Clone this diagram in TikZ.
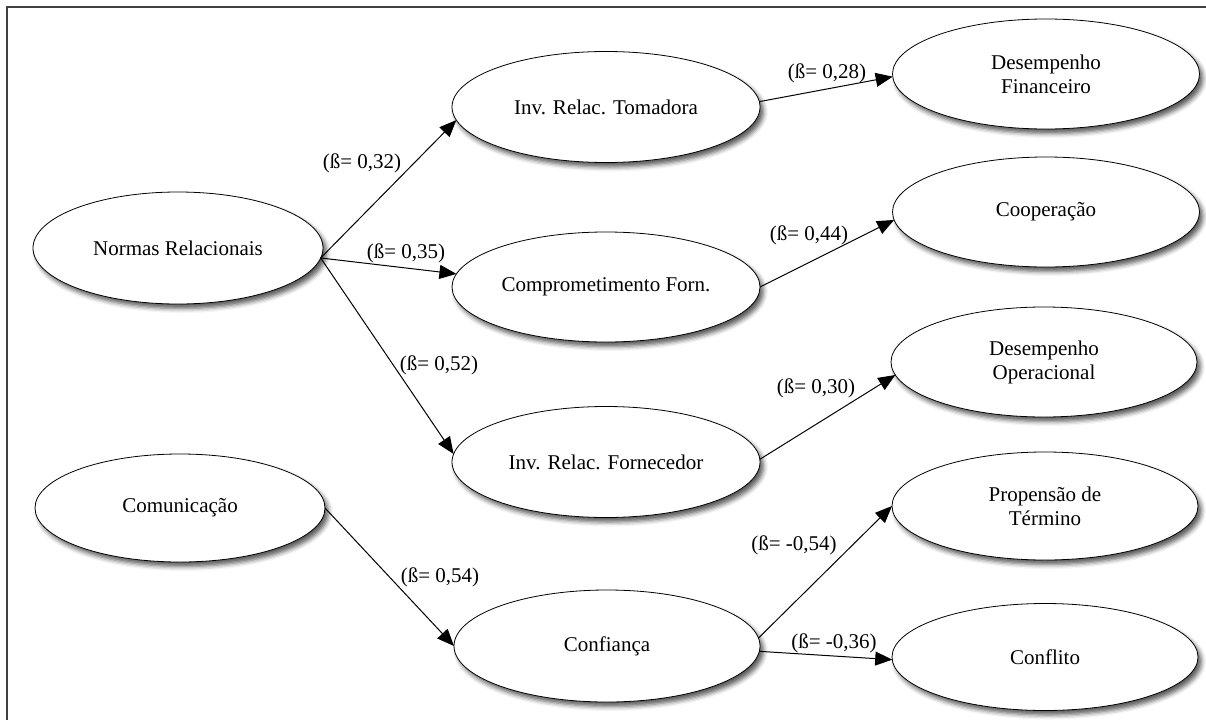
\documentclass[tikz,border=0pt]{standalone}
\usepackage{fontspec}
\setmainfont{Liberation Serif}
\usetikzlibrary{shapes.geometric,arrows.meta,shadows.blur}
\begin{document}
\begin{tikzpicture}[x=1pt,y=-1pt,
  construct/.style={ellipse, draw=black, line width=0.8pt, fill=white,
    inner sep=0pt, outer sep=0pt, align=center,
    font=\fontsize{21}{24}\selectfont,
    blur shadow={shadow xshift=3.5pt, shadow yshift=-4.5pt,
      shadow blur radius=4.5pt, shadow opacity=65}},
  coef/.style={inner sep=0pt, font=\fontsize{21}{24}\selectfont},
  link/.style={draw=black, line width=1pt,
    -{Triangle[length=17pt,width=14pt]}}
]
\useasboundingbox (0,0) rectangle (1206,720);

% frame (top and left edges)
\draw[line width=1.3pt, black!75] (7,720) -- (7,7) -- (1206,7);

% antecedents
\node[construct, minimum width=290pt, minimum height=112pt] (nr)  at (178,248) {Normas Relacionais};
\node[construct, minimum width=290pt, minimum height=108pt] (com) at (180,508) {Comunicação};

% mediators
\node[construct, minimum width=308pt, minimum height=111pt] (tom)  at (606,107) {Inv. Relac. Tomadora};
\node[construct, minimum width=308pt, minimum height=110pt] (comp) at (606,287) {Comprometimento Forn.};
\node[construct, minimum width=308pt, minimum height=111pt] (forn) at (606,462) {Inv. Relac. Fornecedor};
\node[construct, minimum width=306pt, minimum height=112pt] (conf) at (607,646) {Confiança};

% outcomes
\node[construct, minimum width=307pt, minimum height=110pt] (dfin)  at (1046,74)  {Desempenho\\Financeiro};
\node[construct, minimum width=307pt, minimum height=110pt] (coop)  at (1046,212) {Cooperação};
\node[construct, minimum width=306pt, minimum height=110pt] (dop)   at (1044,362) {Desempenho\\Operacional};
\node[construct, minimum width=306pt, minimum height=108pt] (prop)  at (1045,506) {Propensão de\\Término};
\node[construct, minimum width=306pt, minimum height=107pt] (confl) at (1045,657) {Conflito};

% structural paths
\draw[link] (nr.-4)   -- (tom.185.6);
\draw[link] (nr.-4)   -- (comp.175.5);
\draw[link] (nr.-4)   -- (forn.177.4);
\draw[link] (com.0)   -- (conf.180);
\draw[link] (tom.2.6) -- (dfin.181.5);
\draw[link] (comp.0)  -- (coop.183.7);
\draw[link] (forn.1)  -- (dop.185.6);
\draw[link] (conf.3.4)  -- (prop.180);
\draw[link] (conf.-2.7) -- (confl.181.9);

% path coefficients
\node[coef] (b1) at (362,163) {(ß= 0,32)};
\node[coef] (b2) at (406,253) {(ß= 0,35)};
\node[coef] (b3) at (439,365) {(ß= 0,52)};
\node[coef] (b4) at (440,577) {(ß= 0,54)};
\node[coef] (b5) at (827,73)  {(ß= 0,28)};
\node[coef] (b6) at (809,235) {(ß= 0,44)};
\node[coef] (b7) at (816,388) {(ß= 0,30)};
\node[coef] (b8) at (794,545) {(ß= -0,54)};
\node[coef] (b9) at (834,643) {(ß= -0,36)};
\end{tikzpicture}
\end{document}
